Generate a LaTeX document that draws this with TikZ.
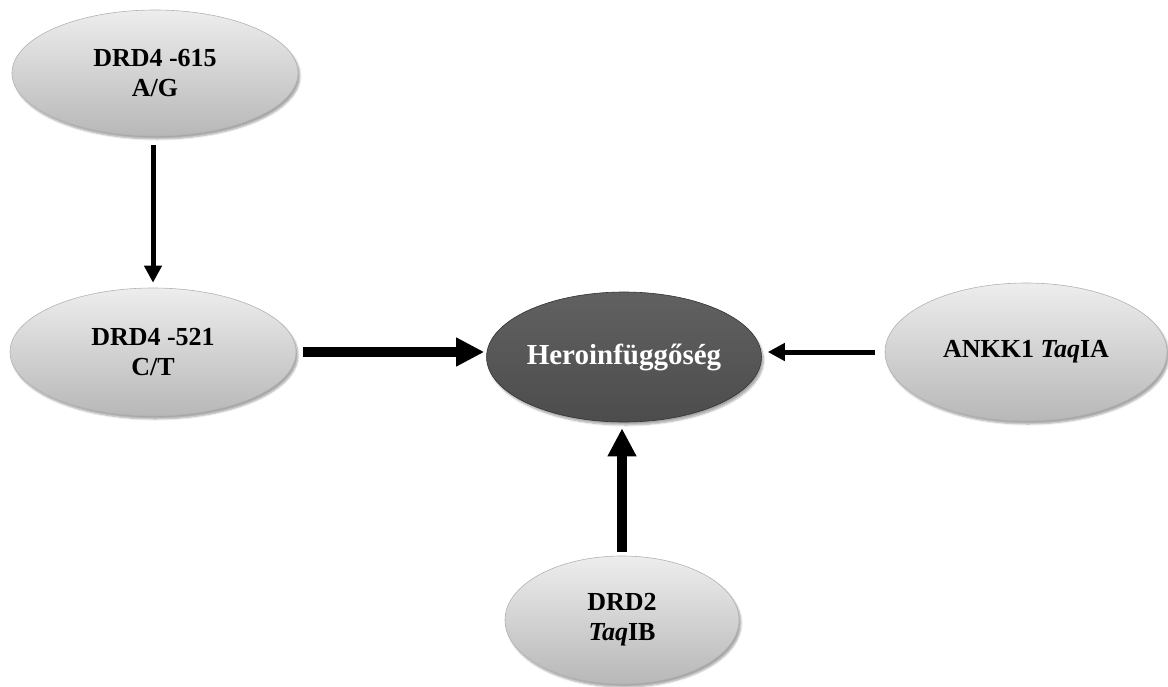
\documentclass[tikz,border=0pt]{standalone}
\usepackage{fontspec}
\setmainfont{Liberation Serif}
\usetikzlibrary{shapes.geometric,arrows.meta,shadows.blur}
\begin{document}
\begin{tikzpicture}[x=1pt,y=1pt,
  gene/.style={ellipse, inner sep=0pt, top color=black!7, bottom color=black!28,
    draw=black!30, line width=0.6pt,
    blur shadow={shadow xshift=2pt, shadow yshift=-3pt, shadow opacity=35, shadow blur steps=6},
    font=\fontsize{26}{30}\selectfont\bfseries, align=center, text=black},
  hub/.style={ellipse, inner sep=0pt, top color=black!62, bottom color=black!70,
    draw=black!80, line width=0.6pt,
    blur shadow={shadow xshift=2pt, shadow yshift=-3pt, shadow opacity=35, shadow blur steps=6},
    font=\fontsize{29}{33}\selectfont\bfseries, text=white},
  thin/.style={line width=5pt, -{Triangle[length=17pt,width=17pt]}},
  thick/.style={line width=10pt, -{Triangle[length=28pt,width=27pt]}}
]
\useasboundingbox (0,0) rectangle (1168,-686);
\node[gene, minimum width=286pt, minimum height=126pt] (a) at (155,-73) {DRD4 -615\\A/G};
\node[gene, minimum width=286pt, minimum height=128pt] (b) at (153,-352) {DRD4 -521\\C/T};
\node[hub, minimum width=254pt, minimum height=130pt] (h) at (624,-357) {Heroinfüggőség};
\node[gene, minimum width=282pt, minimum height=138pt] (c) at (1026,-352) {ANKK1 \textit{Taq}IA};
\node[gene, minimum width=234pt, minimum height=128pt] (d) at (622,-620) {DRD2\\\textit{Taq}IB};

\draw[thin, shorten <=9pt, shorten >=5pt] (b.north |- a.south) -- (b.north);
\draw[thick, shorten <=7pt, shorten >=2pt] (b.east) -- (b.east -| h.west);
\draw[thin, shorten <=10pt, shorten >=6pt] (c.west) -- (c.west -| h.east);
\draw[thick, shorten <=4pt, shorten >=6pt] (d.north) -- (d.north |- h.south);
\end{tikzpicture}
\end{document}
